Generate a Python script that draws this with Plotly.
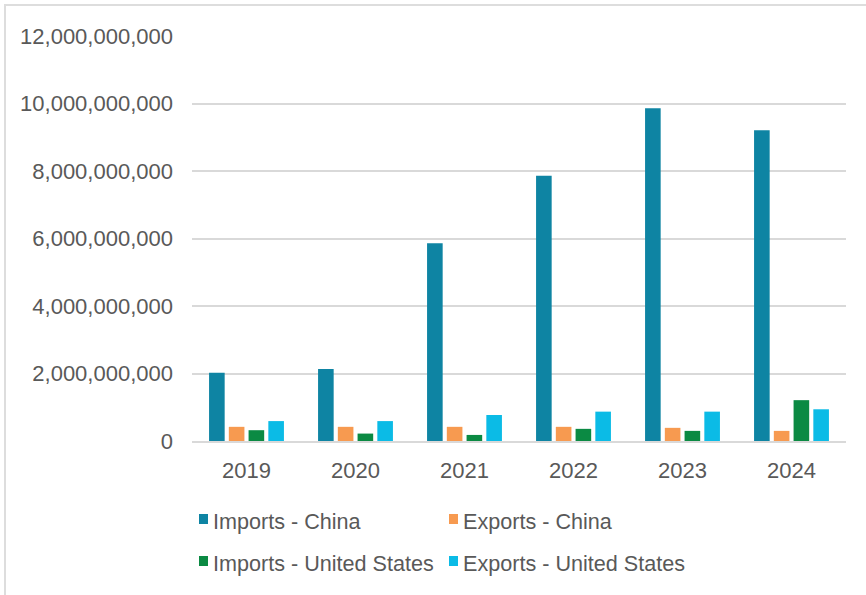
import plotly.graph_objects as go

# Trade values by year (USD)
years = ["2019", "2020", "2021", "2022", "2023", "2024"]
imports_china = [2.02e9, 2.13e9, 5.86e9, 7.86e9, 9.86e9, 9.21e9]
exports_china = [0.42e9, 0.42e9, 0.42e9, 0.42e9, 0.39e9, 0.30e9]
imports_us = [0.32e9, 0.22e9, 0.18e9, 0.36e9, 0.30e9, 1.21e9]
exports_us = [0.59e9, 0.59e9, 0.77e9, 0.87e9, 0.87e9, 0.94e9]

series_names = ["Imports - China", "Exports - China",
                "Imports - United States", "Exports - United States"]
series_values = [imports_china, exports_china, imports_us, exports_us]
series_colors = ["#0E84A3", "#F79A50", "#0B8A43", "#0BBBE6"]

tick_vals = [0, 2e9, 4e9, 6e9, 8e9, 10e9, 12e9]
tick_text = ["0", "2,000,000,000", "4,000,000,000", "6,000,000,000",
             "8,000,000,000", "10,000,000,000", "12,000,000,000"]

W, H = 866, 595
L, R, T, B = 192, 846, 36, 441  # plot area in pixels
FONT = "Liberation Sans, Arial, sans-serif"
GRAY = "#595959"


def px_x(px):
    return (px - L) / (R - L)


def px_y(py):
    return (B - py) / (B - T)


fig = go.Figure()
for name, vals, col in zip(series_names, series_values, series_colors):
    fig.add_trace(go.Bar(x=years, y=vals, name=name, marker_color=col,
                         marker_line_width=0, showlegend=False))

# Legend drawn as colored squares plus labels, two columns by two rows
shapes = []
annotations = []
legend_pos = [(199, 521), (449, 521), (199, 563), (449, 563)]
for (sx, sy), name, col in zip(legend_pos, series_names, series_colors):
    shapes.append(dict(type="rect", xref="paper", yref="paper",
                       x0=px_x(sx), x1=px_x(sx + 9),
                       y0=px_y(sy + 3), y1=px_y(sy - 7),
                       fillcolor=col, line_width=0))
    annotations.append(dict(xref="paper", yref="paper", x=px_x(sx + 12),
                            y=px_y(sy), text=name, showarrow=False,
                            xanchor="left", yanchor="middle",
                            font=dict(family=FONT, size=21.6, color=GRAY)))

# Light frame along top and left edges
shapes.append(dict(type="line", xref="paper", yref="paper",
                   x0=px_x(4), x1=px_x(W), y0=px_y(5), y1=px_y(5),
                   line=dict(color="#DDDDDD", width=2)))
shapes.append(dict(type="line", xref="paper", yref="paper",
                   x0=px_x(5), x1=px_x(5), y0=px_y(4), y1=px_y(H),
                   line=dict(color="#DDDDDD", width=2)))

fig.update_layout(
    width=W, height=H,
    margin=dict(l=L, r=W - R, t=T, b=H - B, pad=0),
    paper_bgcolor="white", plot_bgcolor="white",
    barmode="group", bargap=0.275, bargroupgap=0.21,
    font=dict(family=FONT, size=22, color=GRAY),
    shapes=shapes, annotations=annotations,
    xaxis=dict(showgrid=False, showline=True, linecolor="#D9D9D9",
               linewidth=1.5, ticks="", ticklabelstandoff=9,
               tickfont=dict(size=22, color=GRAY)),
    yaxis=dict(range=[0, 12e9], tickvals=tick_vals, ticktext=tick_text,
               showgrid=True, gridcolor="#D9D9D9", gridwidth=1.5,
               zeroline=False, showline=False, ticks="",
               ticklabelstandoff=18, tickfont=dict(size=22, color=GRAY)),
)

fig.write_html("out.html")
